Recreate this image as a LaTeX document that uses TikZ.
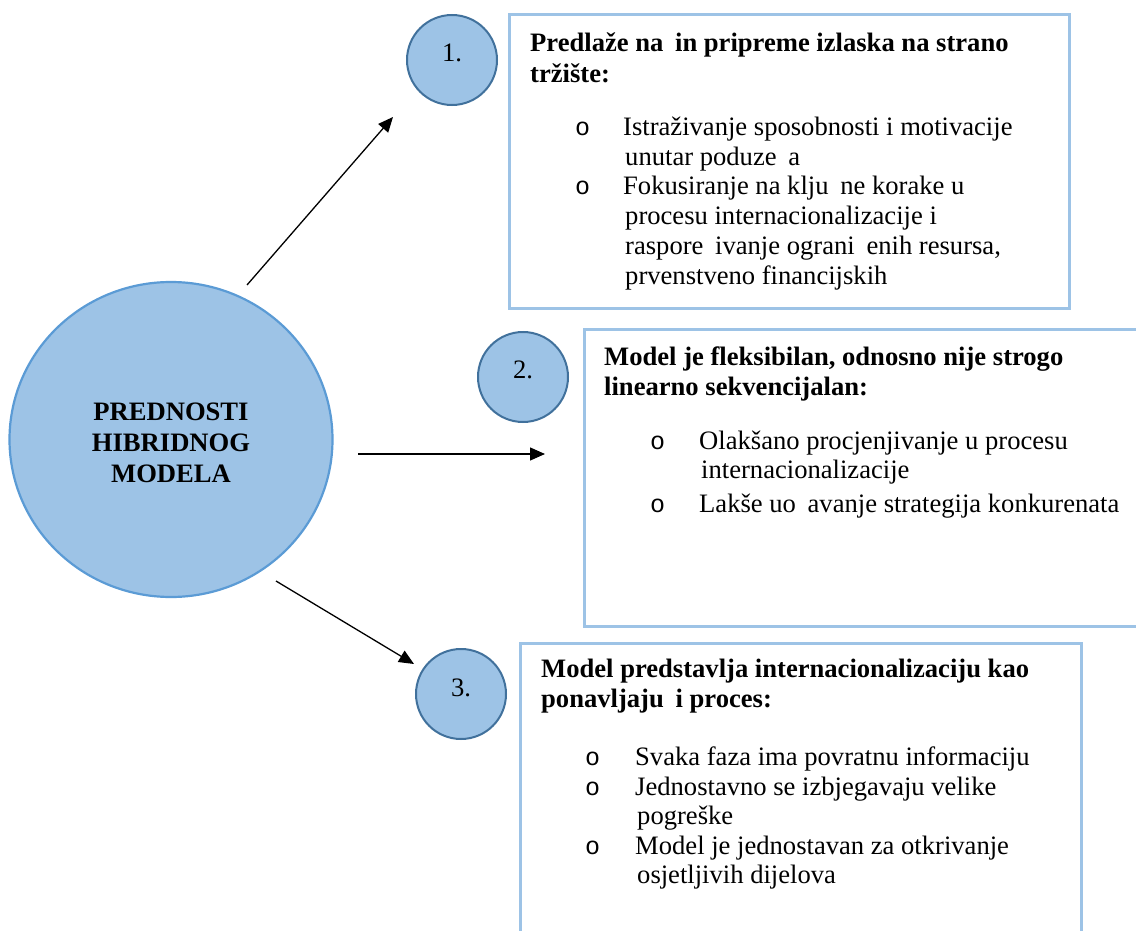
\documentclass[tikz,border=0pt]{standalone}
\usepackage{fontspec}
\setmainfont{Liberation Serif}
\newfontfamily\bulletfont{Liberation Mono}
\usetikzlibrary{arrows.meta,shapes.geometric}
\definecolor{cfill}{HTML}{9DC3E6}
\definecolor{cbig}{HTML}{5B9BD5}
\definecolor{csmall}{HTML}{41719C}
\definecolor{cbox}{HTML}{9DC3E6}
\newcommand{\mgap}{\hspace{0.44em}}
\tikzset{
  bigcirc/.style={ellipse, draw=cbig, fill=cfill, line width=2.2pt, minimum width=323pt, minimum height=315pt, inner sep=0pt},
  numcirc/.style={circle, draw=csmall, fill=cfill, line width=2pt, minimum size=90pt, inner sep=0pt},
  textbox/.style={draw=cbox, line width=2.6pt, anchor=north west, inner sep=0pt},
  numtext/.style={anchor=base, inner sep=0pt, font=\fontsize{26.6}{29.5}\selectfont},
  ttl/.style={anchor=base west, inner sep=0pt, font=\fontsize{26.6}{30}\selectfont\bfseries},
  body/.style={anchor=base west, inner sep=0pt, font=\fontsize{26.6}{29.5}\selectfont},
  bul/.style={anchor=base west, inner sep=0pt, font=\fontsize{25}{29.5}\bulletfont},
  arr/.style={line width=1.3pt, -{Triangle[length=15pt,width=13pt]}},
}
\begin{document}
\begin{tikzpicture}[x=1pt,y=-1pt]
\useasboundingbox (0,0) rectangle (1136,931);
\clip (0,0) rectangle (1136,931);
% boxes
\node[textbox, minimum width=560pt, minimum height=294pt] (b1) at (508,13) {};
\node[textbox, minimum width=600pt, minimum height=297pt] (b2) at (583,328) {};
\node[textbox, minimum width=561pt, minimum height=320pt] (b3) at (519,642) {};
% main circle
\node[bigcirc] (main) at (171,439.5) {};
\node[align=center, inner sep=0pt, font=\fontsize{26.6}{31}\selectfont\bfseries] (maintxt) at (171,443) {PREDNOSTI\\HIBRIDNOG\\MODELA};
% number circles
\node[numcirc] (c1) at (452,60) {};
\node[numtext] (n1) at (452,62) {1.};
\node[numcirc] (c2) at (523,377) {};
\node[numtext] (n2) at (523,378) {2.};
\node[numcirc] (c3) at (461,694) {};
\node[numtext] (n3) at (461,696) {3.};
% arrows
\coordinate (a1s) at (247,285);
\coordinate (a1e) at (393,117);
\coordinate (a2s) at (358,454);
\coordinate (a2e) at (545,454);
\coordinate (a3s) at (276,581);
\coordinate (a3e) at (414,664);
\draw[arr] (a1s) -- (a1e);
\draw[arr] (a2s) -- (a2e);
\draw[arr] (a3s) -- (a3e);
% box 1 text
\node[ttl] (t11) at (530,52) {Predlaže na\mgap in pripreme izlaska na strano};
\node[ttl] (t12) at (530,83) {tržište:};
\node[bul] (o11) at (575,136) {o};
\node[body] (l11) at (623,136) {Istraživanje sposobnosti i motivacije};
\node[body] (l12) at (625,166) {unutar poduze\mgap a};
\node[bul] (o12) at (575,195) {o};
\node[body] (l13) at (623,195) {Fokusiranje na klju\mgap ne korake u};
\node[body] (l14) at (625,225) {procesu internacionalizacije i};
\node[body] (l15) at (625,254) {raspore\mgap ivanje ograni\mgap enih resursa,};
\node[body] (l16) at (625,284) {prvenstveno financijskih};
% box 2 text
\node[ttl] (t21) at (604,365) {Model je fleksibilan, odnosno nije strogo};
\node[ttl] (t22) at (604,395) {linearno sekvencijalan:};
\node[bul] (o21) at (650,449) {o};
\node[body] (l21) at (699,449) {Olakšano procjenjivanje u procesu};
\node[body] (l22) at (701,478) {internacionalizacije};
\node[bul] (o22) at (650,512) {o};
\node[body] (l23) at (699,512) {Lakše uo\mgap avanje strategija konkurenata};
% box 3 text
\node[ttl] (t31) at (541,677) {Model predstavlja internacionalizaciju kao};
\node[ttl] (t32) at (541,707) {ponavljaju\mgap i proces:};
\node[bul] (o31) at (585,765) {o};
\node[body] (l31) at (635,765) {Svaka faza ima povratnu informaciju};
\node[bul] (o32) at (585,795) {o};
\node[body] (l32) at (635,795) {Jednostavno se izbjegavaju velike};
\node[body] (l33) at (637,824) {pogreške};
\node[bul] (o33) at (585,854) {o};
\node[body] (l34) at (635,854) {Model je jednostavan za otkrivanje};
\node[body] (l35) at (637,883) {osjetljivih dijelova};
\end{tikzpicture}
\end{document}
